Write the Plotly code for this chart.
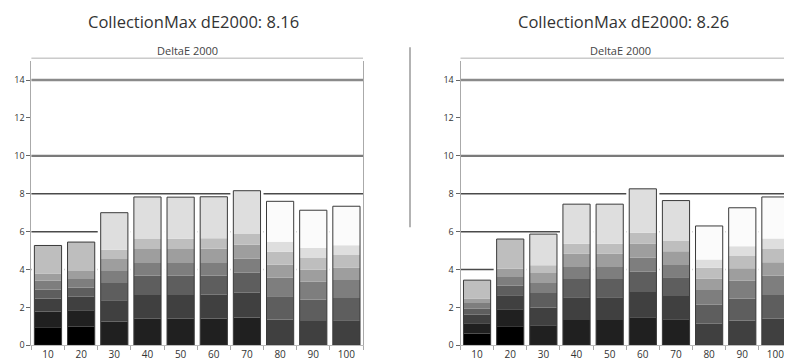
import plotly.graph_objects as go

# ---------------- data ----------------
CATEGORIES = ["10", "20", "30", "40", "50", "60", "70", "80", "90", "100"]
LEFT_VALUES = [5.27, 5.45, 7.0, 7.83, 7.82, 7.84, 8.16, 7.6, 7.13, 7.34]
RIGHT_VALUES = [3.44, 5.61, 5.87, 7.45, 7.45, 8.26, 7.64, 6.3, 7.26, 7.83]
LEFT_TITLE = "CollectionMax dE2000: 8.16"
RIGHT_TITLE = "CollectionMax dE2000: 8.26"
SUBTITLE = "DeltaE 2000"
Y_TICKS = [0, 2, 4, 6, 8, 10, 12, 14]
GRID_LEVELS = [4, 6, 8, 10, 14]

# shading of each bar (gradient approximated by bands)
BAND_FRACTIONS = [0.18, 0.16, 0.13, 0.09, 0.09, 0.07, 0.28]
BASE_SHADE = [0, 0, 1, 1, 1, 1, 1, 2, 2, 2]
PALETTE = ["#000000", "#202020", "#404040", "#5e5e5e", "#7e7e7e",
           "#9e9e9e", "#bebebe", "#dedede", "#fbfbfb"]

# ---------------- figure ----------------
fig = go.Figure()

BAR_W = 0.82


def add_panel(values, xa, ya):
    # white backing hides grid lines between bars
    fig.add_trace(go.Bar(x=CATEGORIES, y=values, width=1.0, xaxis=xa, yaxis=ya,
                         marker=dict(color="white", line=dict(width=0)),
                         showlegend=False, hoverinfo="skip"))
    cum = [0.0] * len(values)
    for j, fr in enumerate(BAND_FRACTIONS):
        seg = [v * fr for v in values]
        cols = [PALETTE[min(b + j, len(PALETTE) - 1)] for b in BASE_SHADE]
        fig.add_trace(go.Bar(x=CATEGORIES, y=seg, base=list(cum), width=BAR_W,
                             xaxis=xa, yaxis=ya,
                             marker=dict(color=cols, line=dict(width=0)),
                             showlegend=False, hoverinfo="skip"))
        cum = [c + s for c, s in zip(cum, seg)]
    fig.add_trace(go.Bar(x=CATEGORIES, y=values, width=BAR_W, xaxis=xa, yaxis=ya,
                         marker=dict(color="rgba(0,0,0,0)",
                                     line=dict(color="#3a3a3a", width=1)),
                         showlegend=False, hoverinfo="skip"))


add_panel(LEFT_VALUES, "x", "y")
add_panel(RIGHT_VALUES, "x2", "y2")

H = 363.0
y_dom = [(H - 343) / H, (H - 54) / H]
x_dom1 = [23.4 / 792, 355 / 792]
x_dom2 = [452.5 / 792, 784 / 792]

xaxis_common = dict(type="category", showgrid=False, zeroline=False,
                    showline=True, linecolor="#bbbbbb", linewidth=1,
                    ticks="outside", tickson="boundaries", ticklen=4,
                    tickcolor="#aaaaaa",
                    tickfont=dict(family="Open Sans", size=10, color="#333333"))
yaxis_common = dict(range=[0, 15], tickvals=Y_TICKS, showgrid=False,
                    zeroline=False, showline=True, mirror=True,
                    linecolor="#aaaaaa", linewidth=1, ticks="outside",
                    ticklen=4, tickcolor="#666666",
                    tickfont=dict(family="Open Sans", size=9, color="#333333"))

fig.update_layout(
    width=792, height=363, margin=dict(l=0, r=0, t=0, b=0),
    paper_bgcolor="white", plot_bgcolor="white", barmode="overlay",
    xaxis=dict(domain=x_dom1, anchor="y", **xaxis_common),
    yaxis=dict(domain=y_dom, anchor="x", **yaxis_common),
    xaxis2=dict(domain=x_dom2, anchor="y2", **xaxis_common),
    yaxis2=dict(domain=y_dom, anchor="x2", **yaxis_common),
)

GRID_STYLE = {14: ("#8a8a8a", 2.5), 10: ("#7a7a7a", 2.2), 8: ("#4a4a4a", 1.5),
              6: ("#4a4a4a", 1.5), 4: ("#4a4a4a", 1.5)}
shapes = []
for xr, yr in (("x", "y"), ("x2", "y2")):
    for g in GRID_LEVELS:
        col, w = GRID_STYLE[g]
        shapes.append(dict(type="line", xref=xr + " domain", yref=yr,
                           x0=0, x1=1, y0=g, y1=g, layer="below",
                           line=dict(color=col, width=w)))
    # line under the subtitle
    shapes.append(dict(type="line", xref=xr + " domain", yref="paper",
                       x0=0, x1=1, y0=(H - 51) / H, y1=(H - 51) / H,
                       line=dict(color="#b0b0b0", width=1)))
# separator between the panels
shapes.append(dict(type="line", xref="paper", yref="paper",
                   x0=402 / 792, x1=402 / 792, y0=(H - 223) / H, y1=(H - 40) / H,
                   line=dict(color="#9a9a9a", width=1.5)))
fig.update_layout(shapes=shapes)

anns = []
for text, x in ((LEFT_TITLE, 185 / 792), (RIGHT_TITLE, 615 / 792)):
    anns.append(dict(text=text, x=x, y=(H - 14) / H, xref="paper", yref="paper",
                     showarrow=False, xanchor="center", yanchor="middle",
                     font=dict(family="Open Sans", size=16.5, color="#333333")))
for x in (179 / 792, 612 / 792):
    anns.append(dict(text=SUBTITLE, x=x, y=(H - 43) / H, xref="paper", yref="paper",
                     showarrow=False, xanchor="center", yanchor="middle",
                     font=dict(family="Open Sans", size=11, color="#444444")))
fig.update_layout(annotations=anns)

fig.write_html("out.html")
